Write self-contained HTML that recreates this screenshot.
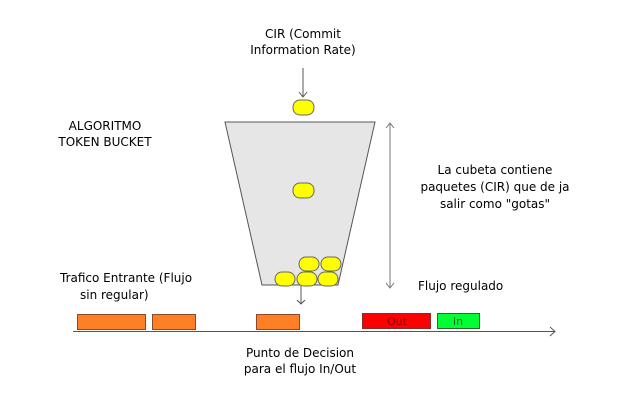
<!DOCTYPE html>
<html><head><style>
body{margin:0;background:#fff;width:638px;height:410px;overflow:hidden}
svg text{font-family:"DejaVu Sans","Liberation Sans",sans-serif;font-size:12px;fill:#000}
</style></head><body>
<svg width="638" height="410" xmlns="http://www.w3.org/2000/svg">
<text x="303" y="38" text-anchor="middle">CIR (Commit</text>
<text x="303" y="54" text-anchor="middle">Information Rate)</text>
<line x1="303" y1="68" x2="303" y2="97" stroke="#555"/>
<polyline points="299,92 303,97 307,92" fill="none" stroke="#555"/>
<text x="105" y="130" text-anchor="middle">ALGORITMO</text>
<text x="105" y="146" text-anchor="middle">TOKEN BUCKET</text>
<polygon points="225,122 375,122 338,285 262,285" fill="#e6e6e6" stroke="#555"/>
<g fill="#ffff00" stroke="#666" stroke-width="1">
<rect x="293" y="100" width="21" height="15" rx="7"/>
<rect x="293" y="183" width="21" height="15" rx="7"/>
<rect x="299" y="257" width="20" height="14" rx="7"/>
<rect x="321" y="257" width="20" height="14" rx="7"/>
<rect x="275" y="272" width="20" height="14" rx="7"/>
<rect x="297" y="272" width="20" height="14" rx="7"/>
<rect x="318" y="272" width="20" height="14" rx="7"/>
</g>
<line x1="301" y1="286" x2="301" y2="304" stroke="#555"/>
<polyline points="297,300 301,304 305,300" fill="none" stroke="#555"/>
<line x1="390" y1="123" x2="390" y2="288" stroke="#777"/>
<polyline points="386,128 390,123 394,128" fill="none" stroke="#777"/>
<polyline points="386,283 390,288 394,283" fill="none" stroke="#777"/>
<text x="495" y="174" text-anchor="middle">La cubeta contiene</text>
<text x="495" y="191" text-anchor="middle">paquetes (CIR) que de ja</text>
<text x="495" y="208" text-anchor="middle">salir como "gotas"</text>
<text x="60" y="282">Trafico Entrante (Flujo</text>
<text x="80" y="299">sin regular)</text>
<text x="418" y="290">Flujo regulado</text>
<g stroke="#8a4a2a" fill="#ff7f27">
<rect x="77.5" y="314.5" width="68" height="15"/>
<rect x="152.5" y="314.5" width="43" height="15"/>
<rect x="256.5" y="314.5" width="43" height="15"/>
</g>
<rect x="362.5" y="313.5" width="68" height="15" fill="#ff0000" stroke="#8a2a2a"/>
<rect x="437.5" y="313.5" width="42" height="15" fill="#00ff33" stroke="#2a6a2a"/>
<text x="397" y="325" text-anchor="middle" style="font-size:11px;fill:#800">Out</text>
<text x="458" y="325" text-anchor="middle" style="font-size:11px;fill:#063">In</text>
<line x1="73" y1="331.5" x2="555" y2="331.5" stroke="#555"/>
<polyline points="550,327 555,331.5 550,336" fill="none" stroke="#555"/>
<text x="300" y="357" text-anchor="middle">Punto de Decision</text>
<text x="300" y="373" text-anchor="middle">para el flujo In/Out</text>
</svg>
</body></html>
